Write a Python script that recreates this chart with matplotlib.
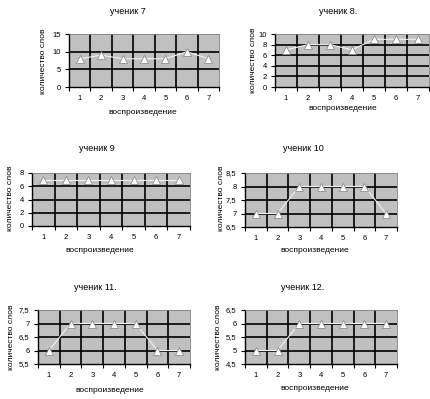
import numpy as np
import matplotlib.pyplot as plt

plt.rcParams['font.family'] = ['Liberation Sans', 'DejaVu Sans']

W, H = 431, 399

trials = [1, 2, 3, 4, 5, 6, 7]

titles = ['ученик 7', 'ученик 8.', 'ученик 9', 'ученик 10', 'ученик 11.', 'ученик 12.']

words_7 = [8, 9, 8, 8, 8, 10, 8]
words_8 = [7, 8, 8, 7, 9, 9, 9]
words_9 = [7, 7, 7, 7, 7, 7, 7]
words_10 = [7, 7, 8, 8, 8, 8, 7]
words_11 = [6, 7, 7, 7, 7, 6, 6]
words_12 = [5, 5, 6, 6, 6, 6, 6]
series = [words_7, words_8, words_9, words_10, words_11, words_12]

yticks_7 = [0, 5, 10, 15]
yticks_8 = [0, 2, 4, 6, 8, 10]
yticks_9 = [0, 2, 4, 6, 8]
yticks_10 = [6.5, 7, 7.5, 8, 8.5]
yticks_11 = [5.5, 6, 6.5, 7, 7.5]
yticks_12 = [4.5, 5, 5.5, 6, 6.5]
yticks_all = [yticks_7, yticks_8, yticks_9, yticks_10, yticks_11, yticks_12]

# layout in pixels: plot box (x0, y0, x1, y1), title, xlabel, ylabel positions
boxes = [(69, 34, 219, 87), (275, 34, 429, 87),
         (32, 173, 190, 226), (245, 173, 397, 227),
         (38, 310, 190, 364), (245, 310, 397, 364)]
title_pos = [(128, 11), (338, 11), (97, 149), (303, 149), (95, 288), (303, 288)]
xlab_pos = [(143, 113), (343, 108), (100, 250), (315, 250), (110, 390), (315, 389)]
ylab_pos = [(44, 61), (254, 60), (11, 198), (222, 198), (12, 337), (219, 337)]


def fmt(v):
    s = ('%g' % v)
    return s.replace('.', ',')


fig = plt.figure(figsize=(W / 100, H / 100), dpi=100)

for i in range(6):
    x0, y0, x1, y1 = boxes[i]
    ax = fig.add_axes([x0 / W, 1 - y1 / H, (x1 - x0) / W, (y1 - y0) / H])
    ax.set_facecolor('#c0c0c0')
    yt = yticks_all[i]
    ax.set_xlim(0.5, 7.5)
    ax.set_ylim(yt[0], yt[-1])

    # grid: horizontal at y ticks, vertical at category boundaries
    for y in yt[1:-1]:
        ax.axhline(y, color='black', lw=1.2, zorder=1)
    for xb in np.arange(1.5, 7.5, 1.0):
        ax.axvline(xb, color='black', lw=1.2, zorder=1)

    ax.plot(trials, series[i], color='#f2f2f2', lw=0.8, marker='^',
            markersize=5.5, markerfacecolor='white', markeredgecolor='#808080',
            markeredgewidth=0.5, zorder=3)

    ax.set_xticks(trials)
    ax.set_xticklabels([str(t) for t in trials])
    ax.set_xticks(np.arange(0.5, 8.0, 1.0), minor=True)
    ax.set_yticks(yt)
    ax.set_yticklabels([fmt(v) for v in yt])
    ax.tick_params(axis='x', which='major', length=0, pad=6, labelsize=5.5)
    ax.tick_params(axis='x', which='minor', length=3, width=0.8, direction='out')
    ax.tick_params(axis='y', length=3, width=0.8, direction='out', pad=3, labelsize=5.5)

    ax.spines['left'].set_color('black')
    ax.spines['bottom'].set_color('black')
    ax.spines['left'].set_linewidth(1.0)
    ax.spines['bottom'].set_linewidth(1.0)
    ax.spines['top'].set_color('#808080')
    ax.spines['right'].set_color('#808080')
    ax.spines['top'].set_linewidth(0.6)
    ax.spines['right'].set_linewidth(0.6)

    tx, ty = title_pos[i]
    fig.text(tx / W, 1 - ty / H, titles[i], ha='center', va='center', fontsize=6.5)
    lx, ly = xlab_pos[i]
    fig.text(lx / W, 1 - ly / H, 'воспроизведение', ha='center', va='center', fontsize=6)
    vx, vy = ylab_pos[i]
    fig.text(vx / W, 1 - vy / H, 'количество слов', ha='center', va='center',
             fontsize=6, rotation=90)

fig.savefig('out.png', dpi=100)
